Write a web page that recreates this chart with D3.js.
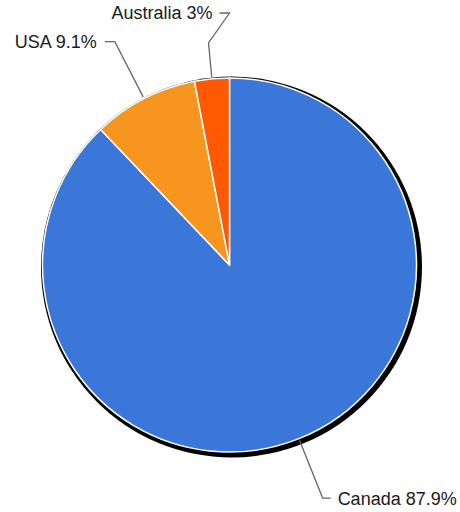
<!DOCTYPE html>
<html>
<head>
    <script src="https://d3js.org/d3.v7.min.js"></script>
    <style>
        body { margin: 0; background: #fff; }
        text { font-family: "Liberation Sans", Arial, sans-serif; font-size: 18px; fill: #1a1a1a; }
    </style>
</head>
<body>
    <svg id="chart" width="460" height="512"></svg>
    <script>
        // data
        var countries = ["Canada", "USA", "Australia"];
        var shares = [87.9, 9.1, 3];
        var labels = ["Canada 87.9%", "USA 9.1%", "Australia 3%"];
        var colors = ["#3b77d9", "#f7961f", "#ff5a03"];

        var cx = 229.5, cy = 265, radius = 187;
        var svg = d3.select("#chart");

        var data = countries.map(function (c, i) {
            return { name: c, value: shares[i], label: labels[i], color: colors[i] };
        });

        var pie = d3.pie().sort(null).value(function (d) { return d.value; });
        var arcs = pie(data);
        var arc = d3.arc().innerRadius(0).outerRadius(radius);

        // drop shadow
        svg.append("circle")
            .attr("cx", cx + 2)
            .attr("cy", cy + 2)
            .attr("r", radius + 3.5)
            .attr("fill", "#000");

        var g = svg.append("g").attr("transform", "translate(" + cx + "," + cy + ")");

        g.selectAll("path.slice").data(arcs).enter().append("path")
            .attr("class", "slice")
            .attr("d", arc)
            .attr("fill", function (d) { return d.data.color; })
            .attr("stroke", "#fff")
            .attr("stroke-width", 1.5)
            .attr("stroke-linejoin", "round");

        function polar(r, a) { return [r * Math.sin(a), -r * Math.cos(a)]; }

        // leader lines + labels
        arcs.forEach(function (d) {
            var mid = (d.startAngle + d.endAngle) / 2;
            var right = Math.sin(mid) > 0;
            var start = polar(radius + 2, mid);
            var pts, textX, textY;
            if (d.data.name === "Australia") {
                // label nudged up to clear the USA label
                var knee = polar(223, mid);
                var corner = [knee[0] + 21, 13 - cy];
                pts = [start, knee, corner, [corner[0] - 10, corner[1]]];
                textX = corner[0] - 17;
                textY = corner[1];
            } else {
                var knee2 = polar(251, mid);
                var tick = right ? 8 : -10;
                pts = [start, knee2, [knee2[0] + tick, knee2[1]]];
                textX = knee2[0] + (right ? 15 : -18);
                textY = knee2[1];
            }
            g.append("path")
                .attr("d", d3.line()(pts))
                .attr("fill", "none")
                .attr("stroke", "#666")
                .attr("stroke-width", 1.3);
            g.append("text")
                .attr("x", textX)
                .attr("y", textY)
                .attr("dy", "0.36em")
                .attr("text-anchor", right ? "start" : "end")
                .text(d.data.label);
        });
    </script>
</body>
</html>
